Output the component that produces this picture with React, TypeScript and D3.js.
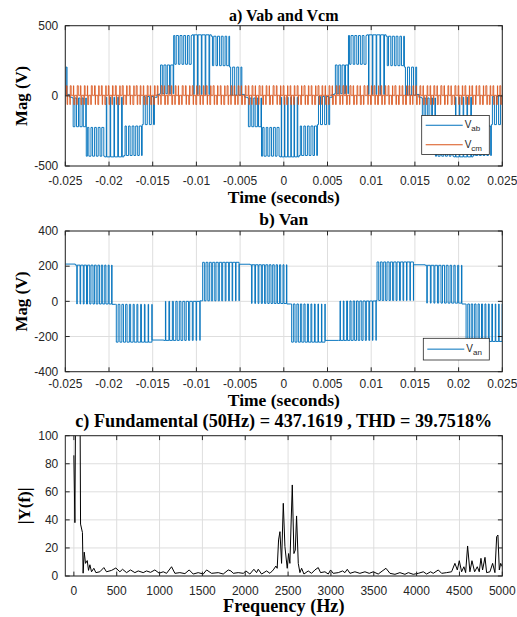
import React from "react";
import * as d3 from "d3";

// ---- axis ticks ----
const timeTicksMs = [-25, -20, -15, -10, -5, 0, 5, 10, 15, 20, 25];
const timeTickLabels = ["-0.025", "-0.02", "-0.015", "-0.01", "-0.005", "0", "0.005", "0.01", "0.015", "0.02", "0.025"];
const vabTicks = [-500, 0, 500];
const vanTicks = [-400, -200, 0, 200, 400];
const fftYTicks = [0, 20, 40, 60, 80, 100];
const freqTicks = [0, 500, 1000, 1500, 2000, 2500, 3000, 3500, 4000, 4500, 5000];

// carrier period (ms)
const carrierMs = 0.4;

// ---- Vab : one half cycle pattern (ms after the zero crossing, levels of a positive half) ----
const vabHalfStart = [0, 0.3, 1.9, 4.0, 6.2, 8.3, 9.7];
const vabHalfEnd = [0.3, 1.9, 4.0, 6.2, 8.3, 9.7, 10.0];
const vabHalfBase = [10, 15, 430, 435, 425, 205, 10];
const vabHalfPulse = [10, 220, 225, 10, 215, 5, 10];
const vabHalfDuty0 = [0, 0.5, 0.4, 0.12, 0.35, 0.5, 0];
const vabHalfDuty1 = [0, 0.7, 0.55, 0.18, 0.6, 0.55, 0];
// zero crossings of Vab (ms) and sign of the half cycle that follows
const vabZeroMs = [-34.5, -24.5, -14.5, -4.45, 5.5, 15.45];
const vabSign = [1, -1, 1, -1, 1, -1];

// ---- Vcm : common-mode pulses ----
const vcmMid = 4;
const vcmHigh = 72;
const vcmLow = -62;
const vcmUpWidth = [0.18, 0.26, 0.1, 0.3, 0.16, 0.22, 0.08, 0.28, 0.2, 0.14, 0.24, 0.1, 0.2];
const vcmDownWidth = [0.16, 0.1, 0.26, 0.14, 0.22, 0.12, 0.28, 0.16, 0.08, 0.24, 0.12, 0.26, 0.18];

// ---- Van segments (ms) ----
const vanStartMs = [-25, -23.85, -19.65, -19.27, -15.07, -13.73, -9.58, -9.38, -5.1, -3.85, 0.35, 0.8, 4.73, 6.26, 10.57, 14.85, 16.18, 20.38, 20.76];
const vanEndMs = [-23.85, -19.65, -19.27, -15.07, -13.73, -9.58, -9.38, -5.1, -3.85, 0.35, 0.8, 4.73, 6.26, 10.57, 14.85, 16.18, 20.38, 20.76, 25];
const vanBase = [212, 206, -17, -17, -220, -222, 3, 3, 211, 208, -15, -15, -222, -222, 5, 208, 205, -15, -15];
const vanPulse = [212, -15, -17, -232, -220, 0, 3, 222, 211, -12, -15, -232, -222, 2, 224, 208, -10, -15, -228];
const vanDuty0 = [0, 0.12, 0, 0.5, 0, 0.1, 0, 0.5, 0, 0.12, 0, 0.5, 0, 0.1, 0.5, 0, 0.12, 0, 0.5];
const vanDuty1 = [0, 0.75, 0, 0.9, 0, 0.9, 0, 0.9, 0, 0.75, 0, 0.9, 0, 0.9, 0.9, 0, 0.75, 0, 0.9];

// ---- FFT of Vab ----
const fftFreq = [0, 12, 50, 78, 100, 108, 121, 136, 156, 171,
  187, 206, 233, 257, 303, 350, 381, 440, 490, 537,
  568, 615, 661, 712, 751, 809, 848, 895, 945, 996,
  1043, 1082, 1140, 1179, 1237, 1296, 1346, 1393, 1451, 1510,
  1549, 1607, 1685, 1743, 1802, 1833, 1860, 1918, 1977, 2008,
  2054, 2101, 2132, 2152, 2191, 2249, 2288, 2327, 2358, 2373,
  2389, 2405, 2424, 2444, 2463, 2490, 2506, 2521, 2549, 2568,
  2584, 2599, 2619, 2638, 2658, 2685, 2735, 2774, 2813, 2852,
  2879, 2930, 2969, 2996, 3027, 3086, 3136, 3163, 3191, 3222,
  3280, 3338, 3397, 3447, 3494, 3552, 3642, 3689, 3747, 3805,
  3864, 3903, 3961, 4019, 4078, 4117, 4163, 4194, 4253, 4292,
  4350, 4408, 4447, 4475, 4498, 4525, 4552, 4572, 4595, 4622,
  4646, 4677, 4708, 4731, 4751, 4770, 4798, 4817, 4856, 4887,
  4914, 4934, 4949, 4965, 4981, 5000];
const fftMag = [86, 38, 437.16, 37, 31, 2, 17, 9, 11, 4,
  8, 3, 5.5, 2.4, 3, 6, 3, 4, 5.7, 3,
  4.8, 2.4, 4.3, 2.4, 3.6, 2.4, 3.6, 2.6, 4.3, 2,
  3, 1.9, 6.6, 1.9, 2.4, 1.7, 4.3, 1.4, 2.4, 1.4,
  4.3, 1.9, 2.4, 1.4, 4.3, 3.6, 1.9, 2.4, 1.9, 3.6,
  1.4, 4.8, 2.4, 4.8, 1.4, 3.6, 1.9, 4.3, 7.1, 5.5,
  25.7, 31.6, 9, 51.8, 21, 5.5, 16, 9, 64.9, 16,
  18.5, 42.8, 9, 2.4, 5.5, 1.4, 3.6, 1.9, 4.3, 6,
  2.4, 3, 1.4, 4.3, 1.9, 2.4, 3.6, 2.4, 4.8, 1.9,
  3, 1.9, 3, 1.9, 3, 1.4, 5.5, 1.9, 1.2, 2.4,
  1.2, 2.4, 1.2, 1.9, 3, 1.4, 3, 1.9, 4.3, 1.9,
  2.4, 3, 9, 4.3, 10.9, 3, 6.6, 2.4, 21.4, 3,
  10.9, 3, 6.6, 3, 12.6, 4.3, 13.3, 2.4, 3, 9,
  2.4, 28, 29.2, 4.3, 9, 6.6];

const BLUE = "#0072BD";
const ORANGE = "#D95319";
const AXIS = "#262626";
const GRID = "#dedede";
const SANS = "'Liberation Sans', Arial, Helvetica, sans-serif";
const SERIF = "'Liberation Serif', 'Times New Roman', serif";

type Pt = [number, number];

function pwm(t0: number, t1: number, base: number, pulse: number, d0: number, d1: number): Pt[] {
  const pts: Pt[] = [[t0, base]];
  if (base !== pulse && (d0 > 0 || d1 > 0)) {
    const n = Math.max(1, Math.round((t1 - t0) / carrierMs));
    const p = (t1 - t0) / n;
    for (let i = 0; i < n; i++) {
      const d = n > 1 ? d0 + ((d1 - d0) * i) / (n - 1) : d0;
      const c = t0 + (i + 0.5) * p;
      const w = (d * p) / 2;
      pts.push([c - w, base], [c - w, pulse], [c + w, pulse], [c + w, base]);
    }
  }
  pts.push([t1, base]);
  return pts;
}

// build the waveforms from the segment tables
const vabPts: Pt[] = [];
vabZeroMs.forEach((z, h) => {
  const s = vabSign[h];
  vabHalfStart.forEach((hs, k) => {
    vabPts.push(...pwm(z + hs, z + vabHalfEnd[k], s * vabHalfBase[k], s * vabHalfPulse[k], vabHalfDuty0[k], vabHalfDuty1[k]));
  });
});

// each carrier period: up to vcmHigh, straight down to vcmLow, back to mid
const vcmPts: Pt[] = [[-25, vcmMid]];
for (let i = 0; i < 126; i++) {
  const wu = vcmUpWidth[i % vcmUpWidth.length] * carrierMs;
  const wd = vcmDownWidth[i % vcmDownWidth.length] * carrierMs;
  const c = -25 + (i + 0.5) * carrierMs;
  const a = c - (wu + wd) / 2;
  const first = i % 2 === 0 ? vcmHigh : vcmLow;
  const second = i % 2 === 0 ? vcmLow : vcmHigh;
  const w1 = i % 2 === 0 ? wu : wd;
  const w2 = i % 2 === 0 ? wd : wu;
  vcmPts.push([a, vcmMid], [a, first], [a + w1, first], [a + w1, second], [a + w1 + w2, second], [a + w1 + w2, vcmMid]);
}

const vanPts: Pt[] = [];
vanStartMs.forEach((t0, k) => {
  vanPts.push(...pwm(t0, vanEndMs[k], vanBase[k], vanPulse[k], vanDuty0[k], vanDuty1[k]));
});

const L = 65.3;
const R = 502.3;
const TICK = 4.4;

type PanelProps = {
  top: number;
  bottom: number;
  x: d3.ScaleLinear<number, number>;
  y: d3.ScaleLinear<number, number>;
  xTicks: number[];
  xLabels: string[];
  yTicks: number[];
  xLabelY: number;
  clipId: string;
  children?: React.ReactNode;
};

function Panel({ top, bottom, x, y, xTicks, xLabels, yTicks, xLabelY, clipId, children }: PanelProps) {
  return (
    <g>
      <clipPath id={clipId}>
        <rect x={L} y={top} width={R - L} height={bottom - top} />
      </clipPath>
      <rect x={L} y={top} width={R - L} height={bottom - top} fill="#fff" />
      {xTicks.map((t) => (
        <line key={"gx" + t} x1={x(t)} x2={x(t)} y1={top} y2={bottom} stroke={GRID} strokeWidth={1} />
      ))}
      {yTicks.map((t) => (
        <line key={"gy" + t} x1={L} x2={R} y1={y(t)} y2={y(t)} stroke={GRID} strokeWidth={1} />
      ))}
      <g clipPath={`url(#${clipId})`}>{children}</g>
      {xTicks.map((t) => (
        <g key={"tx" + t}>
          <line x1={x(t)} x2={x(t)} y1={bottom} y2={bottom - TICK} stroke={AXIS} strokeWidth={1} />
          <line x1={x(t)} x2={x(t)} y1={top} y2={top + TICK} stroke={AXIS} strokeWidth={1} />
        </g>
      ))}
      {yTicks.map((t) => (
        <g key={"ty" + t}>
          <line x1={L} x2={L + TICK} y1={y(t)} y2={y(t)} stroke={AXIS} strokeWidth={1} />
          <line x1={R} x2={R - TICK} y1={y(t)} y2={y(t)} stroke={AXIS} strokeWidth={1} />
        </g>
      ))}
      <rect x={L} y={top} width={R - L} height={bottom - top} fill="none" stroke={AXIS} strokeWidth={1} />
      {xTicks.map((t, i) => (
        <text key={"lx" + t} x={x(t)} y={xLabelY} textAnchor="middle" fontFamily={SANS} fontSize={12} fill={AXIS}>
          {xLabels[i]}
        </text>
      ))}
      {yTicks.map((t) => (
        <text key={"ly" + t} x={L - 7} y={y(t) + 4.3} textAnchor="end" fontFamily={SANS} fontSize={12} fill={AXIS}>
          {t}
        </text>
      ))}
    </g>
  );
}

function Legend({ x, y, w, h, items }: { x: number; y: number; w: number; h: number; items: { color: string; sub: string }[] }) {
  const rowH = h / items.length;
  return (
    <g>
      <rect x={x} y={y} width={w} height={h} fill="#fff" stroke={AXIS} strokeWidth={0.8} />
      {items.map((it, i) => {
        const cy = y + rowH * (i + 0.5);
        return (
          <g key={it.sub}>
            <line x1={x + 4} x2={x + 41} y1={cy} y2={cy} stroke={it.color} strokeWidth={1} />
            <text x={x + 43} y={cy + 3} fontFamily={SANS} fontSize={10} fill={AXIS}>
              V
              <tspan fontSize={8} dy={3}>{it.sub}</tspan>
            </text>
          </g>
        );
      })}
    </g>
  );
}

export default function App() {
  const xT = d3.scaleLinear().domain([-25, 25]).range([L, R]);
  const yA = d3.scaleLinear().domain([-500, 500]).range([166, 25.7]);
  const yB = d3.scaleLinear().domain([-400, 400]).range([371.7, 231]);
  const xF = d3.scaleLinear().domain([-100, 5000]).range([L, R]);
  const yC = d3.scaleLinear().domain([0, 100]).range([576, 435.7]);

  const lineA = d3.line<Pt>().x((d) => xT(d[0])).y((d) => yA(d[1]));
  const lineB = d3.line<Pt>().x((d) => xT(d[0])).y((d) => yB(d[1]));
  const fftPts: Pt[] = fftFreq.map((f, i) => [f, fftMag[i]]);
  const lineC = d3.line<Pt>().x((d) => xF(d[0])).y((d) => yC(d[1]));

  const midX = (L + R) / 2;
  const bold = { fontFamily: SERIF, fontWeight: 700, fill: "#000", textAnchor: "middle" as const };

  return (
    <svg width={517} height={617} style={{ position: "absolute", left: 0, top: 0, background: "#fff" }}>
      <rect width={517} height={617} fill="#fff" />

      {/* a) Vab and Vcm */}
      <text x={midX} y={20.5} fontSize={16} {...bold}>a) Vab and Vcm</text>
      <Panel top={25.7} bottom={166} x={xT} y={yA} xTicks={timeTicksMs} xLabels={timeTickLabels} yTicks={vabTicks} xLabelY={184.5} clipId="clipA">
        <path d={lineA(vabPts) || ""} fill="none" stroke={BLUE} strokeWidth={0.95} />
        <path d={lineA(vcmPts) || ""} fill="none" stroke={ORANGE} strokeWidth={0.85} />
      </Panel>
      <Legend x={421.7} y={115.5} w={67.6} h={39} items={[{ color: BLUE, sub: "ab" }, { color: ORANGE, sub: "cm" }]} />
      <text x={midX} y={203} fontSize={17.5} {...bold}>Time (seconds)</text>
      <text transform="translate(27,95.85) rotate(-90)" fontSize={16.8} {...bold}>Mag (V)</text>

      {/* b) Van */}
      <text x={midX} y={225} fontSize={17.5} {...bold}>b) Van</text>
      <Panel top={231} bottom={371.7} x={xT} y={yB} xTicks={timeTicksMs} xLabels={timeTickLabels} yTicks={vanTicks} xLabelY={387.5} clipId="clipB">
        <path d={lineB(vanPts) || ""} fill="none" stroke={BLUE} strokeWidth={0.95} />
      </Panel>
      <Legend x={423.3} y={338.3} w={66} h={21.7} items={[{ color: BLUE, sub: "an" }]} />
      <text x={midX} y={406} fontSize={17.5} {...bold}>Time (seconds)</text>
      <text transform="translate(27,301.35) rotate(-90)" fontSize={16.8} {...bold}>Mag (V)</text>

      {/* c) FFT */}
      <text x={midX} y={426.5} fontSize={18.2} {...bold}>c) Fundamental (50Hz) = 437.1619 , THD = 39.7518%</text>
      <Panel top={435.7} bottom={576} x={xF} y={yC} xTicks={freqTicks} xLabels={freqTicks.map(String)} yTicks={fftYTicks} xLabelY={594.5} clipId="clipC">
        <path d={lineC(fftPts) || ""} fill="none" stroke="#000" strokeWidth={1} />
      </Panel>
      <text x={midX} y={612} fontSize={18.2} {...bold}>Frequency (Hz)</text>
      <text transform="translate(29.5,505.85) rotate(-90)" fontSize={17} {...bold}>|Y(f)|</text>
    </svg>
  );
}
